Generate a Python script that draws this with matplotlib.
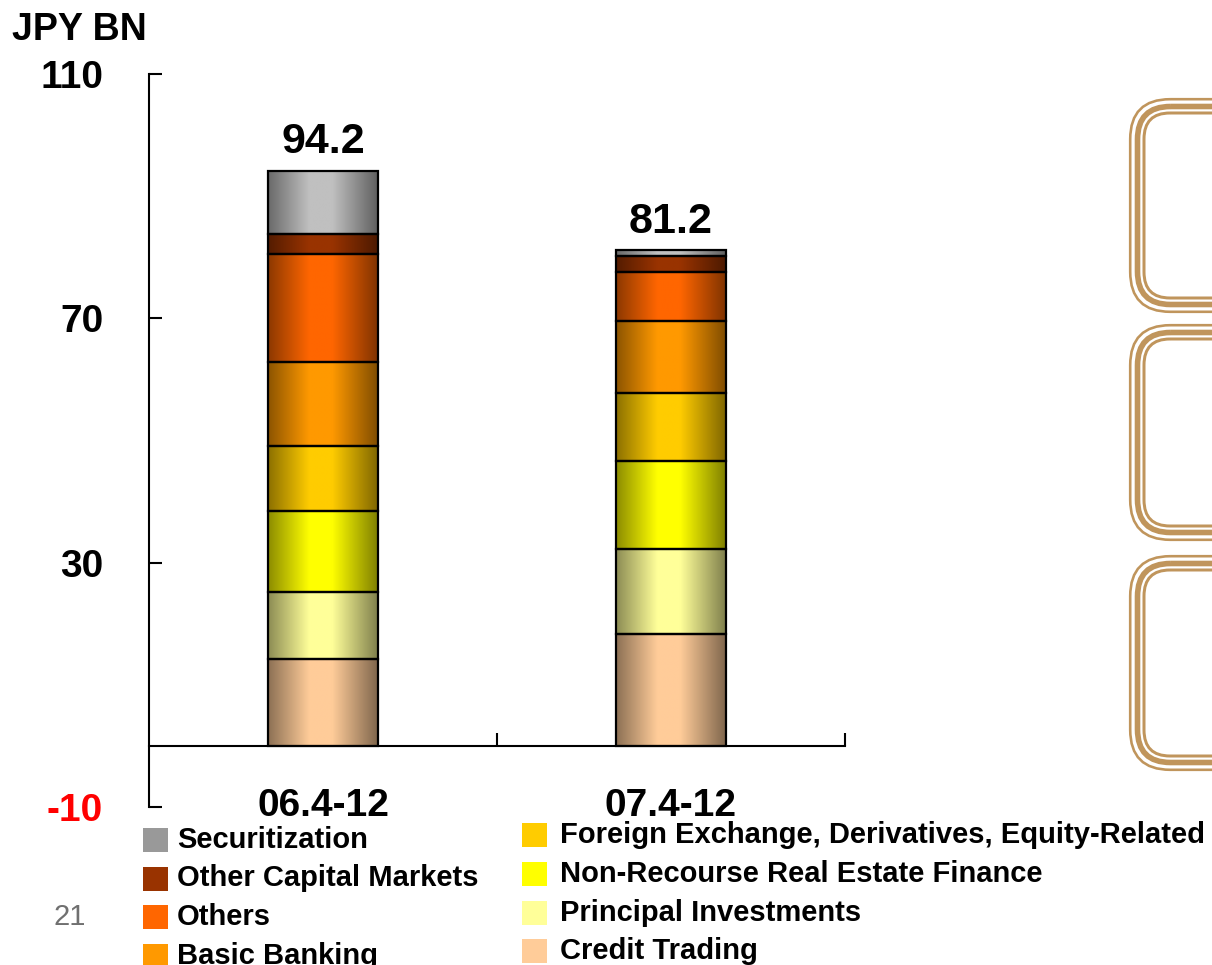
import numpy as np
import matplotlib.pyplot as plt
from matplotlib.colors import to_rgb
from matplotlib.patches import FancyBboxPatch, Rectangle

plt.rcParams['font.family'] = ['Liberation Sans', 'DejaVu Sans']
plt.rcParams['axes.unicode_minus'] = False

# JPY BN, stacked by business line
periods = ['06.4-12', '07.4-12']
totals = [94.2, 81.2]

credit_trading = [14.2, 18.4]
principal_investments = [11.0, 13.9]
nonrecourse_re = [13.2, 14.4]
fx_deriv_equity = [10.7, 11.0]
basic_banking = [13.8, 11.9]
others = [17.7, 8.0]
other_capital_markets = [3.2, 2.6]
securitization = [10.4, 1.0]

# bottom to top
stack = [
    ('Credit Trading', credit_trading, '#FFCC99'),
    ('Principal Investments', principal_investments, '#FFFF99'),
    ('Non-Recourse Real Estate Finance', nonrecourse_re, '#FFFF00'),
    ('Foreign Exchange, Derivatives, Equity-Related', fx_deriv_equity, '#FFCC00'),
    ('Basic Banking', basic_banking, '#FF9900'),
    ('Others', others, '#FF6600'),
    ('Other Capital Markets', other_capital_markets, '#993300'),
    ('Securitization', securitization, '#C0C0C0'),
]
legend_left = [('Securitization', '#999999'), ('Other Capital Markets', '#993300'),
               ('Others', '#FF6600'), ('Basic Banking', '#FF9900')]
legend_right = [('Foreign Exchange, Derivatives, Equity-Related', '#FFCC00'),
                ('Non-Recourse Real Estate Finance', '#FFFF00'),
                ('Principal Investments', '#FFFF99'), ('Credit Trading', '#FFCC99')]

W, H = 1212, 965
fig = plt.figure(figsize=(W / 100, H / 100), dpi=100)

# pixel-space layer for the free text, legend and the framed panels
bg = fig.add_axes([0, 0, 1, 1], zorder=0)
bg.set_xlim(0, W)
bg.set_ylim(H, 0)
bg.axis('off')

ax = fig.add_axes([149 / W, (H - 807) / H, 696 / W, 733 / H], zorder=1)
ax.patch.set_alpha(0)


def shade(color, n=256):
    # dark-light-dark horizontal shading
    t = np.linspace(0, 1, n)
    f = 0.5 + 0.5 * np.clip(1.25 * (1 - np.abs(t - 0.48) / 0.52), 0, 1)
    return (np.array(to_rgb(color))[None, :] * f[:, None])[None, :, :]


x = np.arange(len(periods))
width = 0.316
bottom = np.zeros(len(periods))
for name, vals, col in stack:
    bars = ax.bar(x, vals, width, bottom=bottom, facecolor='none',
                  edgecolor='black', linewidth=1.6, zorder=3)
    for rect in bars:
        x0, y0 = rect.get_x(), rect.get_y()
        ax.imshow(shade(col), extent=(x0, x0 + rect.get_width(), y0, y0 + rect.get_height()),
                  aspect='auto', interpolation='bilinear', zorder=2)
    bottom += np.array(vals)

for xi, tot, top in zip(x, totals, bottom):
    ax.annotate(f'{tot:.1f}', (xi, top), xytext=(0, 6), textcoords='offset points',
                ha='center', va='bottom', fontsize=31, fontweight='bold')

ax.set_xlim(-0.5, 1.5)
ax.set_ylim(-10, 110)
for s in ['top', 'right']:
    ax.spines[s].set_visible(False)
ax.spines['left'].set_linewidth(1.5)
ax.spines['bottom'].set_position(('data', 0))
ax.spines['bottom'].set_linewidth(1.5)

ax.set_yticks([110, 70, 30, -10])
ax.tick_params(axis='y', direction='in', length=9.5, width=1.5, pad=33,
               labelsize=28)
for lab in ax.get_yticklabels():
    lab.set_fontweight('bold')
    if lab.get_text() == '-10':
        lab.set_color('red')

ax.set_xticks([0.5, 1.5])
ax.set_xticklabels([])
ax.tick_params(axis='x', which='major', direction='in', length=9.5, width=1.5)
ax.set_xticks(x, minor=True)
ax.set_xticklabels(periods, minor=True, fontsize=28, fontweight='bold')
ax.tick_params(axis='x', which='minor', length=0, pad=30.5)

bg.text(12, 30, 'JPY BN', fontsize=27, fontweight='bold', va='center', ha='left')
bg.text(70, 917, '21', fontsize=21, color='#707070', va='center', ha='center')

# legend, two columns
for i, (name, col) in enumerate(legend_left):
    yc = 840 + i * 38.5
    bg.add_patch(Rectangle((143, yc - 12), 25, 24, facecolor=col, edgecolor='none'))
    bg.text(177, yc, name, fontsize=21, fontweight='bold', va='center', ha='left')
for i, (name, col) in enumerate(legend_right):
    yc = 835 + i * 38.8
    bg.add_patch(Rectangle((522, yc - 12), 25, 24, facecolor=col, edgecolor='none'))
    bg.text(560, yc, name, fontsize=21, fontweight='bold', va='center', ha='left')

# framed panels on the right, cut by the page edge
frame = '#C0955C'
for top, bot in [(98, 313), (324, 541), (555, 771)]:
    for off, lw, r in [(1.2, 2.6, 40), (8.5, 5.6, 33), (15, 3.0, 26)]:
        bg.add_patch(FancyBboxPatch((1129 + off, top + off), 200 - 2 * off, bot - top - 2 * off,
                                    boxstyle=f'round,pad=0,rounding_size={r}',
                                    facecolor='none', edgecolor=frame, linewidth=lw * 0.72))

fig.savefig('out.png', dpi=100)
